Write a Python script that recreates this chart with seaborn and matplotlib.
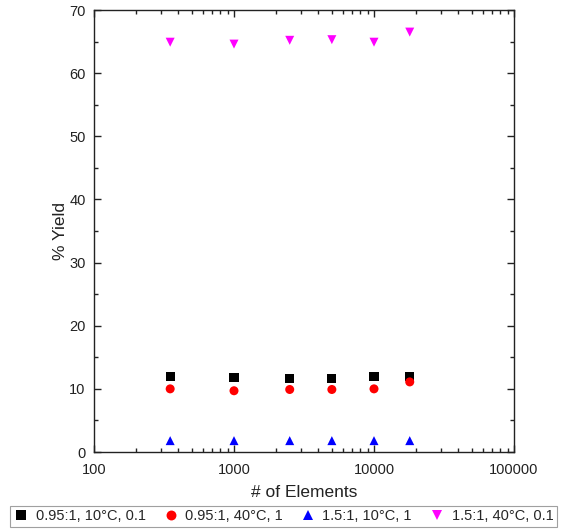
import numpy as np
import pandas as pd
import matplotlib
matplotlib.use("Agg")
import matplotlib.pyplot as plt
import seaborn as sns
from matplotlib.ticker import LogLocator, MultipleLocator, FixedLocator, NullFormatter

sns.set_style("ticks")
plt.rcParams["font.family"] = ["Liberation Sans", "DejaVu Sans"]

elements = [350, 1000, 2500, 5000, 10000, 18000]
series_labels = ["0.95:1, 10°C, 0.1", "0.95:1, 40°C, 1", "1.5:1, 10°C, 1", "1.5:1, 40°C, 0.1"]
yield_sq = [12.0, 11.8, 11.6, 11.6, 12.0, 11.9]
yield_circ = [10.0, 9.7, 9.9, 9.9, 10.0, 11.1]
yield_up = [1.8, 1.8, 1.8, 1.8, 1.8, 1.8]
yield_down = [64.9, 64.6, 65.2, 65.3, 64.9, 66.5]

colors = ["#000000", "#ff0000", "#0000ff", "#ff00ff"]
markers = ["s", "o", "^", "v"]

df = pd.DataFrame({
    "elements": elements * 4,
    "yield": yield_sq + yield_circ + yield_up + yield_down,
    "series": np.repeat(series_labels, len(elements)),
})

fig = plt.figure(figsize=(5.63, 5.29), dpi=100)
ax = fig.add_axes([94 / 563, 1 - 452 / 529, 420 / 563, 442 / 529])

sns.scatterplot(
    data=df, x="elements", y="yield", hue="series", style="series",
    palette=dict(zip(series_labels, colors)),
    markers=dict(zip(series_labels, markers)),
    s=42, linewidth=0, ax=ax, legend=True,
)

ax.set_xscale("log")
ax.set_xlim(100, 100000)
ax.set_ylim(0, 70)
ax.xaxis.set_major_locator(FixedLocator([100, 1000, 10000, 100000]))
ax.set_xticklabels(["100", "1000", "10000", "100000"])
ax.xaxis.set_minor_locator(LogLocator(base=10, subs=np.arange(2, 10)))
ax.xaxis.set_minor_formatter(NullFormatter())
ax.yaxis.set_major_locator(MultipleLocator(10))
ax.yaxis.set_minor_locator(MultipleLocator(5))

ax.tick_params(which="both", direction="in", top=True, right=True,
               colors="#222222", labelsize=10.5, width=1.0)
ax.tick_params(which="major", length=5)
ax.tick_params(which="minor", length=3)
ax.tick_params(axis="x", which="major", pad=8)
ax.tick_params(axis="y", which="major", pad=6)
for sp in ax.spines.values():
    sp.set_visible(True)
    sp.set_linewidth(1.0)
    sp.set_color("#222222")

ax.set_xlabel("# of Elements", fontsize=12.5, labelpad=6, color="#222222")
ax.set_ylabel("% Yield", fontsize=12.5, labelpad=1, color="#222222")

handles, labels = ax.get_legend_handles_labels()
ax.get_legend().remove()
leg = fig.legend(handles, labels, ncol=4, loc="lower left",
                 bbox_to_anchor=(10 / 563, 1 - 527 / 529, 547 / 563, 21 / 529),
                 mode="expand", frameon=True, fancybox=False, fontsize=10.5,
                 handletextpad=0.5, borderpad=0.25, borderaxespad=0,
                 markerscale=1.1, handlelength=1.0, columnspacing=0.8)
leg.get_frame().set_edgecolor("#888888")
leg.get_frame().set_linewidth(0.8)

fig.savefig("out.png", dpi=100)
